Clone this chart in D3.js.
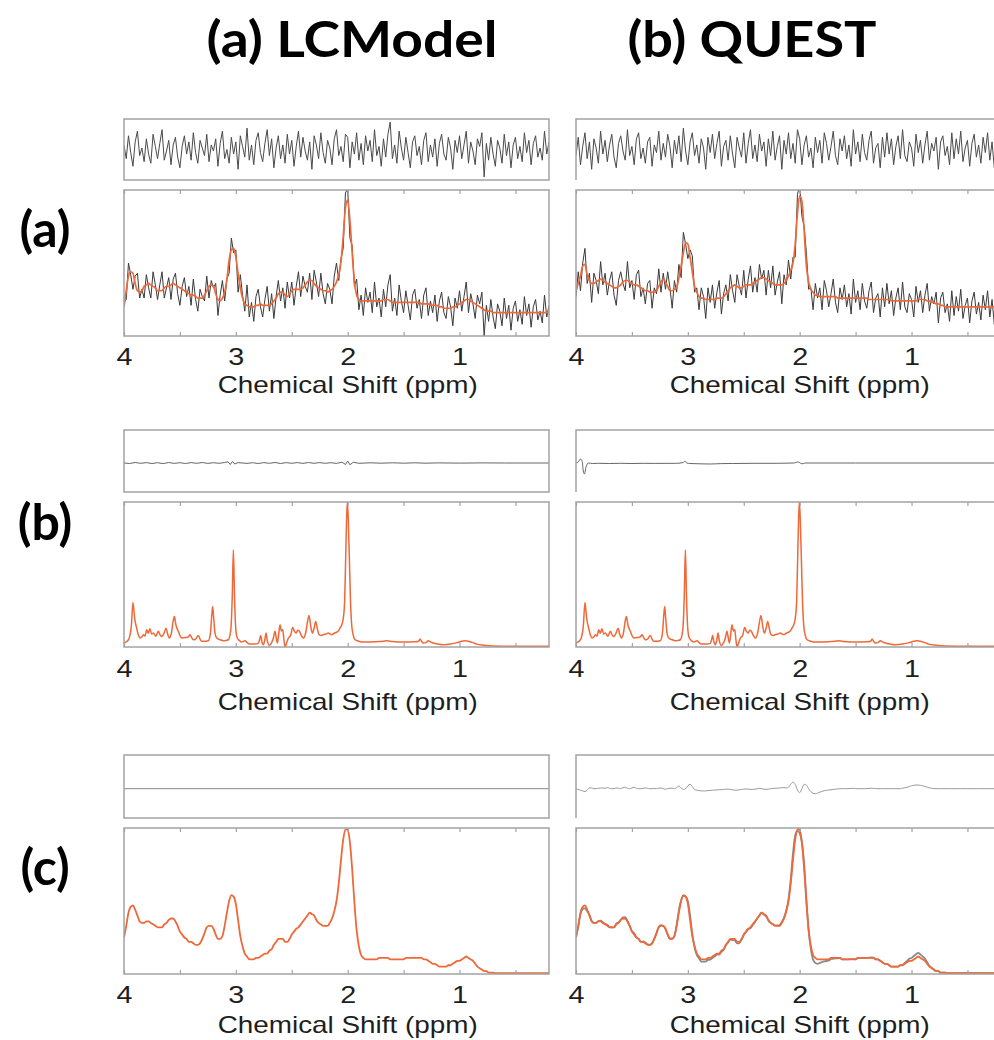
<!DOCTYPE html>
<html>
<head>
<meta charset="utf-8">
<script src="https://cdn.jsdelivr.net/npm/d3@7"></script>
<style>
  html, body { margin: 0; padding: 0; background: #fff; }
  svg { display: block; }
</style>
</head>
<body>
<svg id="fig" width="994" height="1040"></svg>
<script>
// ---------- data ----------
const colTitles = ["(a) LCModel", "(b) QUEST"];
const rowTitles = ["(a)", "(b)", "(c)"];
const tickPpm = [4, 3.5, 3, 2.5, 2, 1.5, 1, 0.5];
const labelPpm = [4, 3, 2, 1];
const xLabel = "Chemical Shift (ppm)";

// spectra sampled every 0.02 ppm, from 4.00 down to 0.20 (191 points)
const ppmGrid = d3.range(191).map(i => +(4 - i * 0.02).toFixed(2));

// row (a): fits and residuals (data = fit + residual)
const aFitLC = [
  20, 31, 41, 44, 43, 36, 31, 30, 31, 34,
  35, 36, 35, 34, 33, 31, 31, 31, 33, 34,
  34, 35, 36, 35, 34, 33, 32, 31, 30, 29,
  28, 28, 27, 26, 26, 26, 28, 31, 34, 35,
  34, 29, 25, 24, 26, 30, 39, 52, 59, 60,
  54, 43, 33, 26, 22, 21, 20, 20, 20, 21,
  21, 22, 21, 21, 21, 21, 22, 24, 26, 29,
  30, 30, 28, 27, 29, 31, 32, 32, 32, 32,
  33, 35, 37, 38, 38, 36, 34, 33, 32, 31,
  31, 30, 31, 32, 34, 37, 42, 51, 68, 88,
  93, 79, 57, 37, 28, 25, 24, 24, 24, 24,
  24, 24, 24, 24, 24, 24, 25, 25, 25, 24,
  23, 23, 23, 23, 23, 23, 23, 23, 23, 23,
  23, 23, 23, 22, 22, 22, 22, 21, 21, 21,
  21, 20, 20, 19, 19, 19, 19, 20, 20, 21,
  22, 23, 24, 25, 25, 24, 23, 22, 21, 20,
  19, 18, 17, 17, 17, 16, 16, 16, 16, 16,
  16, 16, 16, 16, 16, 16, 16, 16, 16, 16,
  16, 16, 16, 16, 16, 16, 16, 16, 16, 16, 16
];
const aResLC = [
  3, -6, 9, -2, -11, 5, 12, -4, 1, -8,
  7, -3, -9, 10, 2, -6, 4, 13, -7, -1,
  6, -10, 3, 8, -5, -12, 2, 9, -3, 5,
  -7, 11, -2, -9, 6, 1, -4, 10, -8, 3,
  -1, 7, -11, 4, 12, -6, 0, -9, 8, -3,
  5, -13, 9, 2, -5, 14, -7, 3, -10, 6,
  11, -2, -8, 4, 13, -4, 7, -12, 1, 9,
  -6, 3, -9, 10, -3, 6, -11, 2, 12, -5,
  8, -1, -7, 5, -13, 9, 3, -6, 11, -2,
  -9, 6, 1, -10, 7, 13, -4, 2, -8, 10,
  8, -12, 5, -3, 11, -7, 4, -10, 9, -1,
  6, -8, 13, -4, 2, -11, 7, -5, 10, 18,
  -6, 3, -9, 12, 1, -7, 8, -2, -12, 5,
  9, -4, 2, -10, 6, 11, -8, 3, -5, 7,
  -11, 4, 10, -3, -7, 8, 1, -13, 6, -2,
  9, -6, 3, 12, -9, 5, -1, -10, 7, 2,
  11, -18, 4, -7, 8, -3, -11, 6, 1, -9,
  10, -4, 5, -12, 3, 8, -6, 2, -8, 11,
  -2, 6, -10, 4, 9, -5, 1, -7, 12, -3, 5
];
const aFitQ = [
  31, 36, 41, 48, 49, 42, 38, 36, 36, 37,
  38, 39, 38, 37, 36, 35, 34, 33, 33, 34,
  35, 37, 38, 38, 37, 36, 35, 35, 34, 33,
  32, 31, 31, 30, 30, 30, 31, 34, 37, 39,
  37, 34, 31, 31, 32, 33, 40, 48, 57, 64,
  63, 54, 44, 34, 30, 27, 26, 26, 25, 25,
  25, 25, 25, 26, 26, 26, 27, 29, 31, 33,
  34, 35, 34, 33, 33, 34, 35, 35, 35, 36,
  37, 38, 39, 40, 40, 39, 38, 37, 36, 35,
  35, 35, 35, 36, 38, 41, 45, 50, 63, 84,
  96, 92, 72, 48, 37, 32, 30, 28, 28, 27,
  27, 27, 27, 27, 27, 27, 27, 26, 26, 26,
  26, 26, 26, 26, 26, 26, 26, 26, 26, 26,
  26, 25, 25, 25, 25, 25, 25, 25, 25, 25,
  25, 24, 24, 24, 24, 24, 24, 24, 24, 24,
  24, 24, 24, 25, 25, 25, 25, 24, 24, 23,
  23, 22, 22, 21, 21, 20, 20, 20, 20, 20,
  20, 20, 20, 20, 20, 20, 20, 20, 20, 20,
  20, 20, 20, 20, 20, 20, 20, 20, 20, 20, 20
];
const aResQ = [
  -4, 8, -10, 2, 11, -6, 5, -13, 7, 1,
  -9, 12, -3, 6, -8, 3, 10, -5, -12, 4,
  9, -1, -7, 13, -4, 2, -10, 7, 11, -6,
  1, -9, 5, 8, -11, 3, -2, 12, -7, 4,
  -5, 10, 2, -12, 6, -3, 9, -8, 14, -1,
  -10, 5, 11, -4, 3, -9, 7, 1, -13, 8,
  -2, 10, -6, 4, 12, -11, 2, 6, -7, 9,
  -3, -12, 8, 1, -5, 11, -9, 4, 13, -6,
  3, -8, 10, -1, 5, -11, 7, -4, 12, -7,
  2, 9, -13, 6, -3, 11, -6, 4, -9, 13,
  7, -10, 3, 9, -5, 1, -12, 8, -2, 6,
  -9, 11, 4, -7, 2, 12, -4, -10, 7, -1,
  9, -6, 3, -11, 13, -3, 5, -8, 10, -2,
  -7, 6, 12, -9, 1, 4, -12, 8, -5, 11,
  -3, 7, -10, 2, 9, -6, 13, -4, -8, 5,
  1, -11, 10, -2, 6, -9, 3, 12, -7, 4,
  -1, 8, -13, 5, 9, -4, 2, -10, 11, -6,
  7, -3, 12, -8, 1, 6, -11, 4, 10, -5,
  3, -9, 8, -2, 11, -7, 5, -12, 2, 9, -4
];

// row (b): metabolite spectrum, [ppm, value] at peaks and valleys
const bSpec = [
  [4.00, 2.7], [3.96, 5], [3.935, 14], [3.92, 30.7], [3.905, 20], [3.887, 13], [3.87, 8],
  [3.857, 6.2], [3.84, 7], [3.827, 8.5], [3.812, 7.5], [3.797, 11.9], [3.783, 9.5],
  [3.768, 12.6], [3.753, 9], [3.738, 9.6], [3.715, 7.5], [3.693, 10.8], [3.678, 8.5],
  [3.663, 7.3], [3.645, 9], [3.624, 13], [3.61, 9], [3.595, 6.2], [3.575, 10], [3.56, 18],
  [3.55, 21], [3.535, 15], [3.514, 10.8], [3.50, 8], [3.484, 6.2], [3.45, 6.5], [3.425, 7],
  [3.41, 8.5], [3.395, 6.5], [3.38, 5], [3.36, 5.5], [3.335, 8], [3.32, 5.5], [3.306, 3.9],
  [3.27, 4], [3.246, 4.3], [3.228, 9], [3.215, 22], [3.207, 28], [3.198, 20], [3.185, 9],
  [3.171, 6.2], [3.14, 5], [3.112, 4.3], [3.09, 4.5], [3.067, 5], [3.045, 12], [3.032, 35],
  [3.022, 67], [3.012, 35], [3.00, 12], [2.987, 6.2], [2.968, 4.5], [2.948, 3.4], [2.918, 4.3],
  [2.90, 3], [2.873, 2], [2.83, 2], [2.80, 2.5], [2.788, 5], [2.778, 8], [2.768, 4],
  [2.754, 1.6], [2.742, 4.5], [2.73, 9.6], [2.718, 4], [2.70, 1.1], [2.68, 3], [2.665, 6],
  [2.65, 10.8], [2.638, 6], [2.629, 2.7], [2.618, 8], [2.605, 15.3], [2.593, 11], [2.581, 12],
  [2.57, 5], [2.56, 0], [2.545, 3], [2.53, 6.2], [2.51, 8], [2.492, 13.5], [2.477, 11],
  [2.462, 9.6], [2.447, 11.5], [2.432, 10.8], [2.415, 8], [2.396, 6.2], [2.375, 10],
  [2.36, 17], [2.346, 21.7], [2.33, 14], [2.316, 9.6], [2.30, 13], [2.286, 17.6], [2.27, 12],
  [2.256, 8.5], [2.235, 8], [2.218, 8.5], [2.195, 9], [2.173, 9.6], [2.158, 9], [2.143, 8.5],
  [2.12, 9.5], [2.098, 10.3], [2.08, 11.5], [2.069, 13], [2.05, 16], [2.039, 20], [2.027, 32],
  [2.018, 61], [2.01, 88], [2.003, 100], [1.995, 88], [1.985, 61], [1.975, 32], [1.964, 15],
  [1.95, 8], [1.934, 5], [1.90, 4], [1.86, 3.4], [1.75, 3.6], [1.68, 4], [1.651, 4.3],
  [1.60, 3.8], [1.50, 3.4], [1.40, 3.6], [1.365, 4], [1.353, 5.5], [1.34, 4], [1.323, 2.7],
  [1.30, 3], [1.279, 4.3], [1.26, 3.5], [1.234, 2.7], [1.19, 2], [1.145, 1.6], [1.08, 2],
  [1.02, 3], [0.98, 4], [0.951, 4.3], [0.92, 4], [0.88, 3], [0.847, 2], [0.78, 1.2],
  [0.70, 0.7], [0.50, 0.5], [0.20, 0.5]
];
const bResLC = [
  [4.0, 0], [3.95, -0.5], [3.9, 0.5], [3.85, -0.3], [3.8, 0.4], [3.75, -0.5], [3.7, 0.3],
  [3.65, -0.6], [3.6, 0.5], [3.55, -0.4], [3.5, 0.3], [3.45, -0.5], [3.4, 0.4], [3.35, -0.3],
  [3.3, 0.5], [3.25, -0.4], [3.2, 0.3], [3.15, -0.3], [3.1, 0.5], [3.07, 1.2], [3.05, -1.5],
  [3.03, 1.5], [3.01, -1], [2.98, 0.4], [2.9, -0.4], [2.85, 0.3], [2.8, -0.5], [2.75, 0.4],
  [2.7, -0.3], [2.65, 0.5], [2.6, -0.5], [2.55, 0.4], [2.5, -0.3], [2.45, 0.4], [2.4, -0.4],
  [2.35, 0.5], [2.3, -0.3], [2.25, 0.4], [2.2, -0.3], [2.15, 0.3], [2.1, -0.4], [2.05, 0.8],
  [2.02, -1.5], [2.0, 2], [1.98, -1.8], [1.95, 0.8], [1.9, -0.3], [1.8, 0.2], [1.7, -0.2],
  [1.6, 0.2], [1.5, -0.2], [1.4, 0.2], [1.3, -0.2], [1.2, 0.1], [1.0, -0.1], [0.8, 0.1],
  [0.6, 0], [0.2, 0]
];
const bResQ = [
  [4.0, 0], [3.98, 1], [3.96, 4], [3.945, 2], [3.935, -8], [3.925, -11], [3.91, -4],
  [3.89, 0], [3.85, -0.5], [3.8, -0.3], [3.7, -0.5], [3.6, -0.3], [3.5, -0.5], [3.4, -0.3],
  [3.3, -0.4], [3.1, -0.3], [3.04, 0.5], [3.025, 2], [3.01, 0], [2.98, -0.5], [2.9, -0.8],
  [2.8, -1], [2.7, -0.6], [2.6, -0.5], [2.4, -0.3], [2.2, -0.3], [2.05, 0], [2.02, 1],
  [2.0, 0.3], [1.98, -0.8], [1.95, 0], [1.5, 0], [0.2, 0]
];

// row (c): noiseless spectrum fit, QUEST residual (data = fit + residual)
const cFit = [
  25, 33, 42, 46, 47, 44, 40, 36, 35, 35,
  36, 36, 35, 34, 33, 32, 32, 32, 34, 35,
  37, 38, 38, 36, 33, 29, 27, 25, 24, 22,
  22, 21, 20, 20, 21, 24, 28, 32, 33, 33,
  31, 27, 24, 24, 26, 33, 42, 50, 54, 53,
  48, 37, 26, 19, 14, 12, 10, 10, 10, 11,
  11, 12, 13, 14, 14, 16, 17, 20, 22, 24,
  24, 24, 22, 22, 24, 27, 29, 31, 32, 34,
  36, 38, 40, 42, 41, 40, 37, 35, 34, 33,
  33, 33, 35, 38, 43, 50, 62, 78, 92, 99,
  99, 90, 72, 49, 30, 19, 13, 11, 10, 10,
  10, 10, 10, 10, 11, 11, 11, 11, 11, 10,
  10, 10, 10, 10, 10, 10, 11, 11, 11, 11,
  11, 11, 11, 11, 10, 10, 9, 8, 7, 7,
  6, 5, 5, 5, 5, 6, 6, 7, 8, 9,
  9, 10, 11, 12, 11, 10, 9, 7, 5, 4,
  3, 2, 2, 1, 1, 1, 0.5, 0.5, 0.5, 0.5,
  0.5, 0.5, 0.5, 0.5, 0.5, 0.5, 0.5, 0.5, 0.5, 0.5,
  0.5, 0.5, 0.5, 0.5, 0.5, 0.5, 0.5, 0.5, 0.5, 0.5, 0.5
];
const cResLC = [[4.0, 0], [0.2, 0]];
const cResQ = [
  0, -0.5, -1, -1.5, -2, -1, 0.5, 0.5, 0, 0,
  0.3, 0.5, 0.5, 0.3, 0.7, 0.3, 0, 0, 0.5, 0.3,
  0, 0.8, 1, 0.3, 0, 0.5, 1, 0.3, 0, 0,
  0.3, 0.5, 0.3, 0, 0, 0.2, 0, 0.3, 0.5, 0,
  -0.3, 0, 0.3, 0.3, 0, 0.8, 1.8, 0.5, -0.5, 0,
  2, 3, 1.5, -0.5, -1, -1.3, -1.5, -1.5, -1.5, -1.3,
  -1.2, -1, -1, -0.8, -0.7, -0.7, -0.5, -0.3, -0.3, -0.5,
  -0.8, -1, -1, -0.8, -0.5, -0.3, -0.2, -0.3, -0.5, -0.5,
  -0.3, 0, 0.2, 0, -0.3, -0.5, -0.3, 0, 0.2, 0.3,
  0.3, 0.5, 0.7, 0.7, 0.5, 1, 3, 4.5, 3, -1,
  -2.7, 0, 3, 2.5, 0, -2, -3.2, -3.4, -3, -2.4,
  -1.8, -1.4, -1.1, -0.9, -0.7, -0.5, -0.3, -0.2, 0, 0,
  0, 0, 0.1, 0.2, 0.2, 0.1, 0, 0, 0, 0,
  0.1, 0.2, 0.3, 0.2, 0.1, 0, 0, 0, 0, 0,
  0, 0, 0, 0, 0, 0, 0.3, 0.6, 1, 1.5,
  2, 2.3, 2.5, 2.5, 2.3, 2, 1.5, 1, 0.6, 0.3,
  0.1, 0, 0, 0, 0, 0, 0, 0, 0, 0,
  0, 0, 0, 0, 0, 0, 0, 0, 0, 0,
  0, 0, 0, 0, 0, 0, 0, 0, 0, 0, 0
];

// ---------- helpers ----------
const onGrid = vals => ppmGrid.map((p, i) => [p, vals[i]]);
const sumGrid = (a, b) => ppmGrid.map((p, i) => [p, a[i] + b[i]]);

const ORANGE = "#ef6838";
const DARK = "#3a3a3a";
const BOX = "#a3a3a3";
const axisFont = "'Liberation Sans', Arial, Helvetica, sans-serif";
const titleFont = "Lato, 'Open Sans', sans-serif";

// ---------- layout ----------
const colX = [124, 576];
const panelW = 425;
const rows = [
  {resTop: 119, resBot: 180, mainTop: 190, mainBot: 336, tickY: 365, labelY: 393, resDomain: [-20, 20], titleY: 247},
  {resTop: 430, resBot: 492, mainTop: 502, mainBot: 647, tickY: 677, labelY: 710, resDomain: [-29, 33], titleY: 540},
  {resTop: 755, resBot: 818, mainTop: 828, mainBot: 974, tickY: 1003, labelY: 1033, resDomain: [-20, 23], titleY: 885}
];

const panels = [
  {row: 0, col: 0, res: {data: onGrid(aResLC), color: "#4a4a4a", curve: d3.curveLinear},
   main: [{data: sumGrid(aFitLC, aResLC), color: DARK, width: 1, curve: d3.curveLinear},
          {data: onGrid(aFitLC), color: ORANGE, width: 1.7, curve: d3.curveMonotoneX}]},
  {row: 0, col: 1, res: {data: onGrid(aResQ), color: "#4a4a4a", curve: d3.curveLinear},
   main: [{data: sumGrid(aFitQ, aResQ), color: DARK, width: 1, curve: d3.curveLinear},
          {data: onGrid(aFitQ), color: ORANGE, width: 1.7, curve: d3.curveMonotoneX}]},
  {row: 1, col: 0, res: {data: bResLC, color: "#666", curve: d3.curveLinear},
   main: [{data: bSpec, color: ORANGE, width: 1.5, curve: d3.curveMonotoneX}]},
  {row: 1, col: 1, res: {data: bResQ, color: "#666", curve: d3.curveMonotoneX},
   main: [{data: bSpec, color: ORANGE, width: 1.5, curve: d3.curveMonotoneX}]},
  {row: 2, col: 0, res: {data: cResLC, color: "#888", curve: d3.curveLinear},
   main: [{data: onGrid(cFit), color: ORANGE, width: 1.8, curve: d3.curveMonotoneX}]},
  {row: 2, col: 1, res: {data: onGrid(cResQ), color: "#999", curve: d3.curveMonotoneX},
   main: [{data: sumGrid(cFit, cResQ), color: "#8a8a8a", width: 1.8, curve: d3.curveMonotoneX},
          {data: onGrid(cFit), color: ORANGE, width: 1.8, curve: d3.curveMonotoneX}]}
];

// ---------- draw ----------
const svg = d3.select("#fig");
const defs = svg.append("defs");

panels.forEach((p, k) => {
  const row = rows[p.row];
  const x0 = colX[p.col];
  const x = d3.scaleLinear([4, 0.2], [x0, x0 + panelW]);
  const yRes = d3.scaleLinear(row.resDomain, [row.resBot, row.resTop]);
  const yMain = d3.scaleLinear([0, 100], [row.mainBot, row.mainTop]);

  defs.append("clipPath").attr("id", "res" + k).append("rect")
    .attr("x", x0).attr("y", row.resTop).attr("width", panelW).attr("height", row.resBot - row.resTop);
  defs.append("clipPath").attr("id", "main" + k).append("rect")
    .attr("x", x0).attr("y", row.mainTop).attr("width", panelW).attr("height", row.mainBot - row.mainTop);

  const g = svg.append("g");

  // residual strip
  g.append("path")
    .datum(p.res.data)
    .attr("clip-path", `url(#res${k})`)
    .attr("fill", "none")
    .attr("stroke", p.res.color)
    .attr("stroke-width", 1)
    .attr("d", d3.line().x(d => x(d[0])).y(d => yRes(d[1])).curve(p.res.curve));

  if (p.col === 0) {
    g.append("rect")
      .attr("x", x0).attr("y", row.resTop)
      .attr("width", panelW).attr("height", row.resBot - row.resTop)
      .attr("fill", "none").attr("stroke", BOX).attr("stroke-width", 1.5);
  } else {
    g.append("path")
      .attr("d", `M${x0},${row.resBot}V${row.resTop}H${x0 + panelW}`)
      .attr("fill", "none").attr("stroke", BOX).attr("stroke-width", 1.5);
  }

  // spectrum
  p.main.forEach(s => {
    g.append("path")
      .datum(s.data)
      .attr("clip-path", `url(#main${k})`)
      .attr("fill", "none")
      .attr("stroke", s.color)
      .attr("stroke-width", s.width)
      .attr("stroke-linejoin", "round")
      .attr("d", d3.line().x(d => x(d[0])).y(d => yMain(d[1])).curve(s.curve));
  });

  // ticks, top and bottom, pointing inward
  const bottom = g.append("g")
    .attr("transform", `translate(0,${row.mainBot})`)
    .call(d3.axisBottom(x).tickValues(tickPpm).tickSize(-4)
      .tickFormat(d => labelPpm.includes(d) ? d3.format("d")(d) : ""));
  bottom.select(".domain").remove();
  bottom.selectAll(".tick line").attr("stroke", BOX).attr("stroke-width", 1.2);
  bottom.selectAll(".tick text")
    .attr("y", null).attr("dy", null)
    .attr("transform", `translate(0,${row.tickY - row.mainBot}) scale(1.25,1)`)
    .attr("fill", "#1e1e1e")
    .style("font-family", axisFont)
    .style("font-size", "23px");

  const top = g.append("g")
    .attr("transform", `translate(0,${row.mainTop})`)
    .call(d3.axisTop(x).tickValues(tickPpm).tickSize(-4).tickFormat(""));
  top.select(".domain").remove();
  top.selectAll(".tick line").attr("stroke", BOX).attr("stroke-width", 1.2);

  g.append("rect")
    .attr("x", x0).attr("y", row.mainTop)
    .attr("width", panelW).attr("height", row.mainBot - row.mainTop)
    .attr("fill", "none").attr("stroke", BOX).attr("stroke-width", 1.5);

  g.append("text")
    .attr("x", x(2)).attr("y", row.labelY)
    .attr("text-anchor", "middle")
    .attr("textLength", 260)
    .attr("lengthAdjust", "spacingAndGlyphs")
    .attr("fill", "#1e1e1e")
    .style("font-family", axisFont)
    .style("font-size", "24px")
    .text(xLabel);
});

// column titles
const colTitleX = [352, 752];
const colTitleW = [291, 249];
colTitles.forEach((t, i) => {
  svg.append("text")
    .attr("x", colTitleX[i]).attr("y", 57)
    .attr("text-anchor", "middle")
    .attr("textLength", colTitleW[i])
    .attr("lengthAdjust", "spacingAndGlyphs")
    .style("font-family", titleFont)
    .style("font-weight", 700)
    .style("font-size", "50px")
    .text(t);
});

// row labels
rowTitles.forEach((t, i) => {
  svg.append("text")
    .attr("x", 45).attr("y", rows[i].titleY)
    .attr("text-anchor", "middle")
    .style("font-family", titleFont)
    .style("font-weight", 700)
    .style("font-size", "50px")
    .text(t);
});
</script>
</body>
</html>
